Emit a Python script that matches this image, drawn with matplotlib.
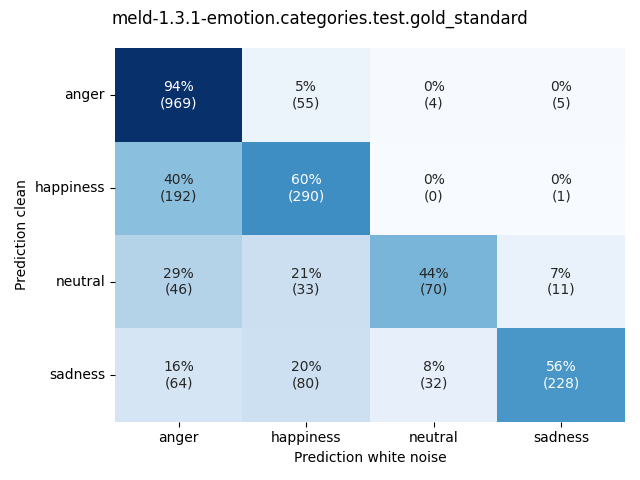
import matplotlib
matplotlib.use("Agg")
import matplotlib.pyplot as plt
import seaborn as sns
import numpy as np

labels = ["anger", "happiness", "neutral", "sadness"]
counts = np.array([
    [969, 55, 4, 5],
    [192, 290, 0, 1],
    [46, 33, 70, 11],
    [64, 80, 32, 228],
])

pct = counts / counts.sum(axis=1, keepdims=True)
annot = np.array([[f"{pct[i, j]*100:.0f}%\n({counts[i, j]})" for j in range(4)] for i in range(4)])

fig, ax = plt.subplots(figsize=(6.4, 4.8), dpi=100)
sns.heatmap(pct, annot=annot, fmt="", cmap="Blues", cbar=False,
            xticklabels=labels, yticklabels=labels, ax=ax)
ax.set_xlabel("Prediction white noise")
ax.set_ylabel("Prediction clean")
plt.setp(ax.get_yticklabels(), rotation=0)
fig.suptitle("meld-1.3.1-emotion.categories.test.gold_standard")
fig.tight_layout()
fig.savefig("out.png")
